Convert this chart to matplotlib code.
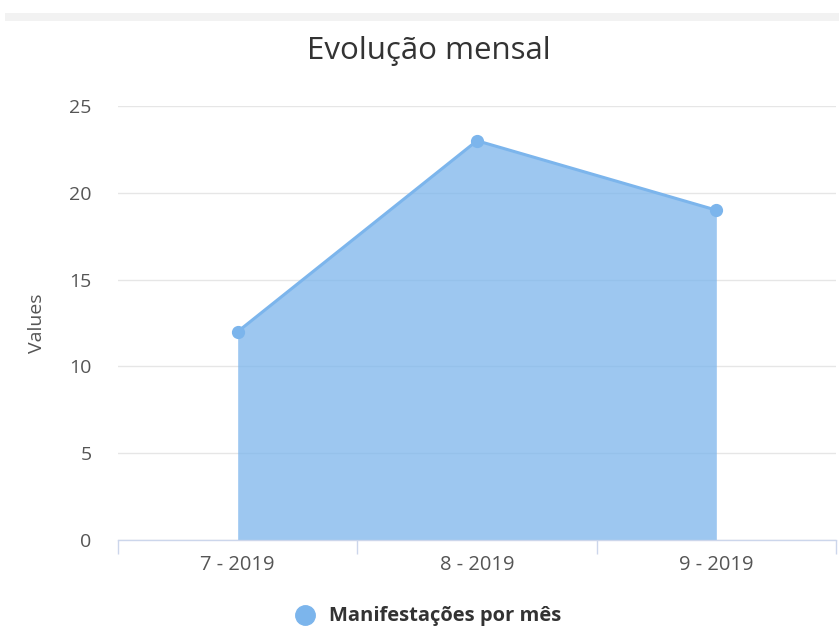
import matplotlib
matplotlib.use("Agg")
import matplotlib.pyplot as plt
from matplotlib.patches import Rectangle
from matplotlib.lines import Line2D

categories = ["7 - 2019", "8 - 2019", "9 - 2019"]
values = [12, 23, 19]
yticks = [0, 5, 10, 15, 20, 25]
title = "Evolução mensal"
series_name = "Manifestações por mês"
y_label = "Values"

plt.rcParams['font.family'] = ['Open Sans', 'DejaVu Sans']

W, H = 839, 626
fig = plt.figure(figsize=(W / 100, H / 100), dpi=100)

# top gray strip
fig.patches.append(Rectangle((5 / W, 1 - 21 / H), 1 - 5 / W, 8 / H,
                             transform=fig.transFigure, facecolor="#f2f2f2",
                             edgecolor="none", zorder=0))

ax = fig.add_axes([118 / W, 1 - 540 / H, (836 - 118) / W, (540 - 106) / H])
x = list(range(len(categories)))
blue = "#7cb5ec"
ax.fill_between(x, values, 0, color=blue, alpha=0.75, linewidth=0, zorder=2)
ax.plot(x, values, color=blue, linewidth=2.2, zorder=3)
ax.plot(x, values, 'o', color=blue, markersize=8.5, zorder=4)

ax.set_xlim(-0.5, len(categories) - 0.5)
ax.set_ylim(0, 25)
ax.set_yticks(yticks)
ax.grid(axis='y', color="#e6e6e6", linewidth=1, zorder=0)
ax.set_axisbelow(True)

for s in ['top', 'right', 'left']:
    ax.spines[s].set_visible(False)
ax.spines['bottom'].set_color("#ccd6eb")
ax.spines['bottom'].set_linewidth(1)

ax.set_xticks(x)
ax.set_xticklabels(categories)
ax.tick_params(axis='x', which='major', length=0, pad=11, labelsize=14.5,
               labelcolor="#555555")
ax.set_xticks([i - 0.5 for i in range(len(categories) + 1)], minor=True)
ax.tick_params(axis='x', which='minor', length=10, color="#ccd6eb", width=1)
ax.tick_params(axis='y', length=0, pad=19, labelsize=14, labelcolor="#555555")

ax.set_ylabel(y_label, color="#555555", fontsize=14, labelpad=17)

fig.text(429 / W, 1 - 51 / H, title, ha='center', va='center',
         fontsize=22.5, color="#333333")

# legend
fig.add_artist(Line2D([305 / W], [1 - 615 / H], marker='o', color=blue,
                      markersize=14, linestyle='none', transform=fig.transFigure))
fig.text(329 / W, 1 - 616 / H, series_name, ha='left', va='center',
         fontsize=14.5, fontweight='bold', color="#333333")

fig.savefig("out.png", dpi=100)
